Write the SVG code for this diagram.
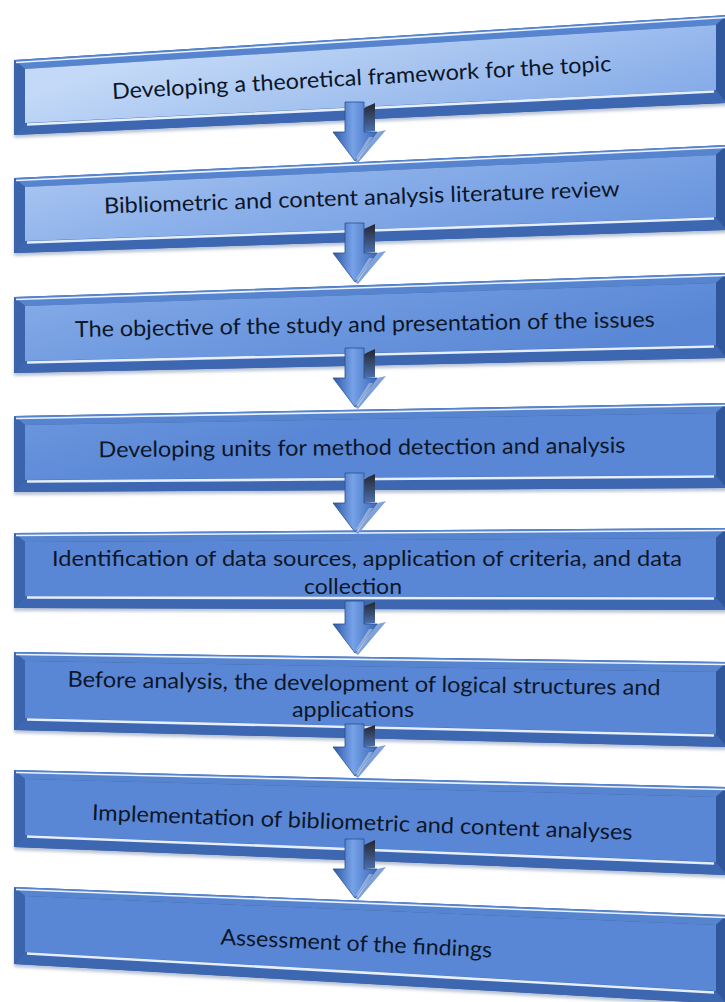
<svg xmlns="http://www.w3.org/2000/svg" width="725" height="1002" viewBox="0 0 725 1002">
<style>
.rim{fill:#2f5697;filter:url(#sh)}
.tb{fill:#5684cf}
.bbv{fill:#3d67b1}
.lbv{fill:#3b64ad}
.rbv{fill:#30579c}
.face{fill:url(#fg)}
.hl1{stroke:#e9f2fd;stroke-width:1.6;fill:none}
.hl2{stroke:#e4eefc;stroke-width:2.6;fill:none}
.t{font-family:Lato,"Open Sans","Liberation Sans",sans-serif;font-size:22px;fill:#0c1629;text-anchor:middle}
</style>
<defs>
<filter id="sh" x="-5%" y="-20%" width="110%" height="150%">
<feDropShadow dx="0" dy="3" stdDeviation="1.6" flood-color="#7f93b5" flood-opacity="0.55"/>
</filter>
<linearGradient id="fg" gradientUnits="userSpaceOnUse" x1="25" y1="95" x2="140" y2="484">
<stop offset="0" stop-color="#c3d9f7"/>
<stop offset="0.4" stop-color="#8db1ea"/>
<stop offset="0.7" stop-color="#6f9ae0"/>
<stop offset="1" stop-color="#5a87d5"/>
</linearGradient>
<linearGradient id="af" x1="0" y1="0" x2="1" y2="0">
<stop offset="0" stop-color="#2c58a6"/>
<stop offset="0.45" stop-color="#77a2e8"/>
<stop offset="1" stop-color="#3a68b7"/>
</linearGradient>
<linearGradient id="as" x1="0" y1="0" x2="0" y2="1">
<stop offset="0" stop-color="#23262e"/>
<stop offset="1" stop-color="#4b6fae"/>
</linearGradient>
<linearGradient id="ah" x1="0" y1="0" x2="1" y2="1">
<stop offset="0" stop-color="#a9c6f2"/>
<stop offset="1" stop-color="#4d78c2"/>
</linearGradient>
<g id="arrow">
<polygon points="9,-24 20,-29 20,-1 9,0" fill="url(#as)"/>
<polygon points="22,0 31,-2 3,31 0,29" fill="url(#ah)"/>
<polygon points="-10,-30 9,-30 9,0 22,0 0,29 -22,0 -10,0" fill="url(#af)" stroke="#2a4f8f" stroke-width="0.8"/>
<polygon points="1,26 14,5 18,5 3,29" fill="#ffffff" opacity="0.35"/>
</g>
<g id="arrowS">
<polygon points="9,-18 20,-22 20,-1 9,0" fill="url(#as)"/>
<polygon points="22,0 31,-2 3,31 0,29" fill="url(#ah)"/>
<polygon points="-10,-23 9,-23 9,0 22,0 0,29 -22,0 -10,0" fill="url(#af)" stroke="#2a4f8f" stroke-width="0.8"/>
<polygon points="1,26 14,5 18,5 3,29" fill="#ffffff" opacity="0.35"/>
</g>
</defs>

<g id="node1">
<polygon class="rim" points="14,60 727,15 727,103 14,135"/>
<polygon class="tb" points="14,60 727,15 716,25 25,69"/>
<polygon class="bbv" points="14,135 727,103 716,90 25,123"/>
<polygon class="lbv" points="14,60 25,69 25,123 14,135"/>
<polygon class="rbv" points="727,15 716,25 716,90 727,103"/>
<polygon class="face" points="25,69 716,25 716,90 25,123"/>
<line class="hl1" x1="16" y1="62.5" x2="725" y2="17.5"/>
<line class="hl2" x1="27" y1="124.5" x2="714" y2="91.5"/>
<text class="t" x="362" y="85" transform="rotate(-3.2 362 85)" textLength="500" lengthAdjust="spacingAndGlyphs">Developing a theoretical framework for the topic</text>
</g>

<g id="node2">
<polygon class="rim" points="14,178 727,145 727,230 14,253"/>
<polygon class="tb" points="14,178 727,145 716,155 25,187"/>
<polygon class="bbv" points="14,253 727,230 716,217 25,241"/>
<polygon class="lbv" points="14,178 25,187 25,241 14,253"/>
<polygon class="rbv" points="727,145 716,155 716,217 727,230"/>
<polygon class="face" points="25,187 716,155 716,217 25,241"/>
<line class="hl1" x1="16" y1="180.5" x2="725" y2="147.5"/>
<line class="hl2" x1="27" y1="242.5" x2="714" y2="218.5"/>
<text class="t" x="362" y="205" transform="rotate(-1.9 362 205)" textLength="516" lengthAdjust="spacingAndGlyphs">Bibliometric and content analysis literature review</text>
</g>

<g id="node3">
<polygon class="rim" points="14,297 727,273 727,358 14,373"/>
<polygon class="tb" points="14,297 727,273 716,283 25,306"/>
<polygon class="bbv" points="14,373 727,358 716,345 25,361"/>
<polygon class="lbv" points="14,297 25,306 25,361 14,373"/>
<polygon class="rbv" points="727,273 716,283 716,345 727,358"/>
<polygon class="face" points="25,306 716,283 716,345 25,361"/>
<line class="hl1" x1="16" y1="299.5" x2="725" y2="275.5"/>
<line class="hl2" x1="27" y1="362.5" x2="714" y2="346.5"/>
<text class="t" x="365" y="332" transform="rotate(-1 365 332)" textLength="580" lengthAdjust="spacingAndGlyphs">The objective of the study and presentation of the issues</text>
</g>

<g id="node4">
<polygon class="rim" points="14,416 727,403 727,488 14,492"/>
<polygon class="tb" points="14,416 727,403 716,413 25,425"/>
<polygon class="bbv" points="14,492 727,488 716,475 25,480"/>
<polygon class="lbv" points="14,416 25,425 25,480 14,492"/>
<polygon class="rbv" points="727,403 716,413 716,475 727,488"/>
<polygon class="face" points="25,425 716,413 716,475 25,480"/>
<line class="hl1" x1="16" y1="418.5" x2="725" y2="405.5"/>
<line class="hl2" x1="27" y1="481.5" x2="714" y2="476.5"/>
<text class="t" x="362" y="455" transform="rotate(-0.5 362 455)" textLength="527" lengthAdjust="spacingAndGlyphs">Developing units for method detection and analysis</text>
</g>

<g id="node5">
<polygon class="rim" points="14,533 727,528 727,610 14,608"/>
<polygon class="tb" points="14,533 727,528 716,538 25,542"/>
<polygon class="bbv" points="14,608 727,610 716,597 25,596"/>
<polygon class="lbv" points="14,533 25,542 25,596 14,608"/>
<polygon class="rbv" points="727,528 716,538 716,597 727,610"/>
<polygon class="face" points="25,542 716,538 716,597 25,596"/>
<line class="hl1" x1="16" y1="535.5" x2="725" y2="530.5"/>
<line class="hl2" x1="27" y1="597.5" x2="714" y2="598.5"/>
<text class="t" x="367" y="566" textLength="630" lengthAdjust="spacingAndGlyphs">Identification of data sources, application of criteria, and data</text>
<text class="t" x="353" y="594" textLength="98" lengthAdjust="spacingAndGlyphs">collection</text>
</g>

<g id="node6">
<polygon class="rim" points="14,652 727,662 727,747 14,730"/>
<polygon class="tb" points="14,652 727,662 716,672 25,661"/>
<polygon class="bbv" points="14,730 727,747 716,734 25,718"/>
<polygon class="lbv" points="14,652 25,661 25,718 14,730"/>
<polygon class="rbv" points="727,662 716,672 716,734 727,747"/>
<polygon class="face" points="25,661 716,672 716,734 25,718"/>
<line class="hl1" x1="16" y1="654.5" x2="725" y2="664.5"/>
<line class="hl2" x1="27" y1="719.5" x2="714" y2="735.5"/>
<text class="t" x="364" y="691" transform="rotate(0.8 364 691)" textLength="593" lengthAdjust="spacingAndGlyphs">Before analysis, the development of logical structures and</text>
<text class="t" x="353" y="717" textLength="122" lengthAdjust="spacingAndGlyphs">applications</text>
</g>

<g id="node7">
<polygon class="rim" points="14,770 727,787 727,875 14,847"/>
<polygon class="tb" points="14,770 727,787 716,797 25,779"/>
<polygon class="bbv" points="14,847 727,875 716,862 25,835"/>
<polygon class="lbv" points="14,770 25,779 25,835 14,847"/>
<polygon class="rbv" points="727,787 716,797 716,862 727,875"/>
<polygon class="face" points="25,779 716,797 716,862 25,835"/>
<line class="hl1" x1="16" y1="772.5" x2="725" y2="789.5"/>
<line class="hl2" x1="27" y1="836.5" x2="714" y2="863.5"/>
<text class="t" x="362" y="830" transform="rotate(2.1 362 830)" textLength="541" lengthAdjust="spacingAndGlyphs">Implementation of bibliometric and content analyses</text>
</g>

<g id="node8">
<polygon class="rim" points="14,887 727,915 727,1004 14,964"/>
<polygon class="tb" points="14,887 727,915 716,925 25,896"/>
<polygon class="bbv" points="14,964 727,1004 716,991 25,952"/>
<polygon class="lbv" points="14,887 25,896 25,952 14,964"/>
<polygon class="rbv" points="727,915 716,925 716,991 727,1004"/>
<polygon class="face" points="25,896 716,925 716,991 25,952"/>
<line class="hl1" x1="16" y1="889.5" x2="725" y2="917.5"/>
<line class="hl2" x1="27" y1="953.5" x2="714" y2="992.5"/>
<text class="t" x="356" y="951" transform="rotate(2.7 356 951)" textLength="272" lengthAdjust="spacingAndGlyphs">Assessment of the findings</text>
</g>

<g id="connectors">
<use href="#arrow" x="355" y="132"/>
<use href="#arrow" x="355" y="253"/>
<use href="#arrow" x="355" y="378"/>
<use href="#arrow" x="355" y="503"/>
<use href="#arrowS" x="355" y="624"/>
<use href="#arrowS" x="355" y="747"/>
<use href="#arrow" x="355" y="869"/>
</g>
</svg>
